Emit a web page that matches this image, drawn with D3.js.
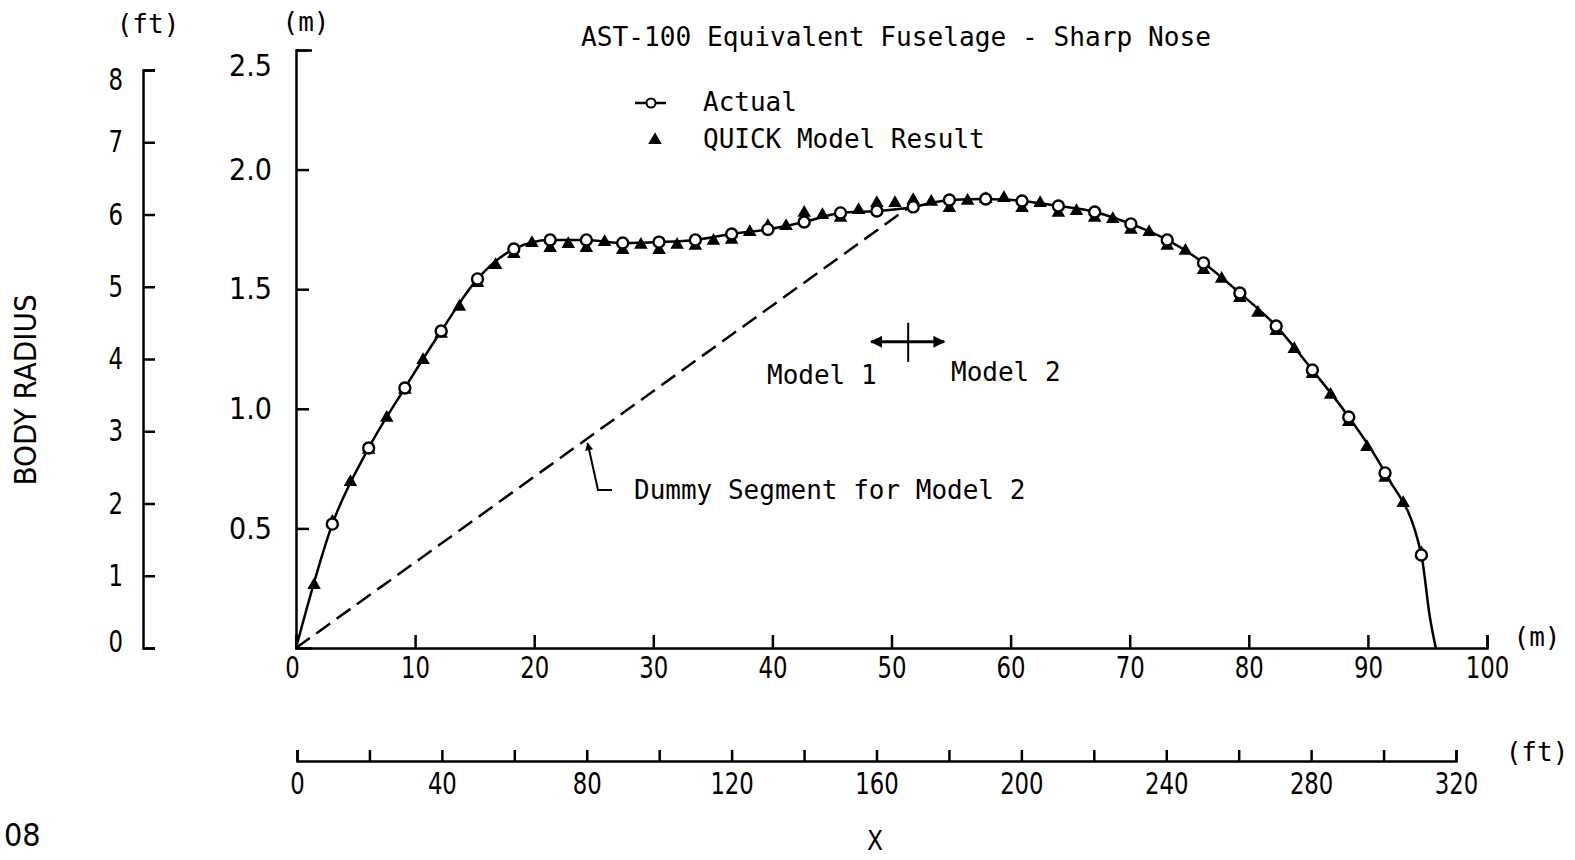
<!DOCTYPE html>
<html>
<head>
<meta charset="utf-8">
<script src="https://cdn.jsdelivr.net/npm/d3@7"></script>
<style>
  body { margin: 0; background: #fff; }
  svg { display: block; }
  .mono { font-family: "DejaVu Sans Mono", "Liberation Mono", monospace; }
</style>
</head>
<body>
<div id="chart"></div>
<script>
// stations along the body (m), 10 ft apart, and the actual body radius (m)
var stationActual = [0, 3.05, 6.10, 9.14, 12.19, 15.24, 18.29, 21.34, 24.38, 27.43, 30.48, 33.53, 36.58,
  39.62, 42.67, 45.72, 48.77, 51.82, 54.86, 57.91, 60.96, 64.01, 67.06, 70.10, 73.15, 76.20,
  79.25, 82.30, 85.34, 88.39, 91.44, 94.49, 95.20, 95.70];
var radiusActual = [0, 0.518, 0.836, 1.087, 1.325, 1.543, 1.668, 1.706, 1.706, 1.693, 1.697, 1.706, 1.731,
  1.750, 1.781, 1.819, 1.827, 1.844, 1.873, 1.877, 1.869, 1.848, 1.823, 1.773, 1.706, 1.610,
  1.484, 1.346, 1.162, 0.966, 0.732, 0.389, 0.130, 0];
// which actual stations carry a circle marker
var circleActual = [false, true, true, true, true, true, true, true, true, true, true, true, true,
  true, true, true, true, true, true, true, true, true, true, true, true, true,
  true, true, true, true, true, true, false, false];

// QUICK model result, every 5 ft
var stationQuick = [1.52, 3.05, 4.57, 6.10, 7.62, 9.14, 10.67, 12.19, 13.72, 15.24, 16.76, 18.29, 19.81,
  21.34, 22.86, 24.38, 25.91, 27.43, 28.96, 30.48, 32.00, 33.53, 35.05, 36.58, 38.10, 39.62, 41.15,
  42.67, 44.20, 45.72, 47.24, 48.77, 50.29, 51.82, 53.34, 54.86, 56.39, 57.91, 59.44, 60.96, 62.48,
  64.01, 65.53, 67.06, 68.58, 70.10, 71.63, 73.15, 74.68, 76.20, 77.72, 79.25, 80.77, 82.30, 83.82,
  85.34, 86.87, 88.39, 89.92, 91.44, 92.96, 94.49];
var radiusQuick = [0.263, 0.527, 0.694, 0.828, 0.962, 1.079, 1.204, 1.313, 1.426, 1.526, 1.601, 1.647, 1.693,
  1.672, 1.689, 1.672, 1.697, 1.664, 1.685, 1.664, 1.685, 1.681, 1.702, 1.706, 1.739, 1.764, 1.764,
  1.819, 1.810, 1.798, 1.831, 1.860, 1.860, 1.873, 1.865, 1.839, 1.869, 1.877, 1.881, 1.839, 1.860,
  1.819, 1.827, 1.798, 1.793, 1.748, 1.739, 1.681, 1.660, 1.580, 1.543, 1.463, 1.401, 1.325, 1.250,
  1.145, 1.058, 0.945, 0.840, 0.711, 0.606, 0.397];

// dummy segment for model 2 and the model split station
var dummyStart = [0, 0];
var dummyEnd = [51.4, 1.84];
var splitStation = 51.4;

// tick values
var xTicksM = [0, 10, 20, 30, 40, 50, 60, 70, 80, 90, 100];
var xTicksFt = d3.range(0, 321, 20);
var yTicksM = [0.5, 1.0, 1.5, 2.0, 2.5];
var yTicksFt = [0, 1, 2, 3, 4, 5, 6, 7, 8];

var W = 1575, H = 860;
var tickFont = '"Liberation Sans Narrow", "DejaVu Sans Condensed", "Roboto Condensed", sans-serif';

var svg = d3.select('#chart').append('svg')
  .attr('width', W).attr('height', H);

// scales
var x = d3.scaleLinear().domain([0, 100]).range([296, 1487]);
var xFt = d3.scaleLinear().domain([0, 320]).range([297, 1456]);
var y = d3.scaleLinear().domain([0, 2.5]).range([648, 50]);
var yFt = d3.scaleLinear().domain([0, 8]).range([648, 70]);

function styleAxis(g, size) {
  g.attr('font-family', tickFont).attr('font-size', size);
  g.selectAll('path, line').attr('stroke', '#000').attr('stroke-width', 2.5);
  g.selectAll('text').attr('fill', '#000');
}
// squeeze integer labels to the narrow lettering of the original
function narrowDigits(g) {
  g.selectAll('.tick text').each(function() {
    var t = d3.select(this).text();
    if (t.length && t.indexOf('.') < 0) {
      d3.select(this).attr('textLength', t.length * 14.5).attr('lengthAdjust', 'spacingAndGlyphs');
    }
  });
}

// x axis (m)
var xAxis = svg.append('g')
  .attr('transform', 'translate(0,648)')
  .call(d3.axisBottom(x).tickValues(xTicksM).tickFormat(d3.format('d'))
    .tickSizeInner(-13).tickSizeOuter(-13).tickPadding(9));
styleAxis(xAxis, 30);
narrowDigits(xAxis);
xAxis.selectAll('.tick').filter(function(d) { return d === 0; }).select('text').attr('dx', -4);

// x axis (ft)
var xAxisFt = svg.append('g')
  .attr('transform', 'translate(0,761)')
  .call(d3.axisBottom(xFt).tickValues(xTicksFt)
    .tickFormat(function(d) { return d % 40 === 0 ? d : ''; })
    .tickSizeInner(-11).tickSizeOuter(-11).tickPadding(12));
styleAxis(xAxisFt, 30);
narrowDigits(xAxisFt);

// y axis (m)
var yAxis = svg.append('g')
  .attr('transform', 'translate(296,0)')
  .call(d3.axisLeft(y).tickValues(yTicksM).tickFormat(d3.format('.1f'))
    .tickSizeInner(-13).tickSizeOuter(-16).tickPadding(24));
styleAxis(yAxis, 30);
yAxis.selectAll('.tick').filter(function(d) { return d === 2.5; }).select('text').attr('dy', '0.85em');

// y axis (ft)
var yAxisFt = svg.append('g')
  .attr('transform', 'translate(143,0)')
  .call(d3.axisLeft(yFt).tickValues(yTicksFt).tickFormat(d3.format('d'))
    .tickSizeInner(-12).tickSizeOuter(-12).tickPadding(20));
styleAxis(yAxisFt, 30);
narrowDigits(yAxisFt);
yAxisFt.selectAll('.tick').filter(function(d) { return d === 8; }).select('text').attr('dy', '0.65em');
yAxisFt.selectAll('.tick').filter(function(d) { return d === 0; }).select('text').attr('dy', '0.1em');

// unit labels
function label(txt, px, py, size) {
  return svg.append('text').attr('class', 'mono')
    .attr('x', px).attr('y', py)
    .attr('text-anchor', 'middle').attr('dominant-baseline', 'central')
    .attr('font-size', size).attr('fill', '#000').text(txt);
}
label('(ft)', 148, 24, 26);
label('(m)', 306, 22, 26);
label('(m)', 1537, 637, 26);
label('(ft)', 1537, 752, 26);

svg.append('text')
  .attr('transform', 'translate(25,390) rotate(-90)')
  .attr('text-anchor', 'middle').attr('dominant-baseline', 'central')
  .attr('font-family', tickFont).attr('font-size', 31).attr('fill', '#000')
  .text('BODY RADIUS');

svg.append('text')
  .attr('x', 875).attr('y', 841)
  .attr('text-anchor', 'middle').attr('dominant-baseline', 'central')
  .attr('font-family', tickFont).attr('font-size', 26).attr('fill', '#000')
  .text('X');

// page number at the bottom-left corner
svg.append('text')
  .attr('x', 4).attr('y', 846)
  .attr('font-family', tickFont).attr('font-size', 32).attr('font-weight', 300).attr('fill', '#000')
  .text('08');

// title
svg.append('text').attr('class', 'mono')
  .attr('x', 581).attr('y', 37).attr('dominant-baseline', 'central')
  .attr('font-size', 26).attr('fill', '#000')
  .attr('textLength', 630).attr('lengthAdjust', 'spacingAndGlyphs')
  .text('AST-100 Equivalent Fuselage - Sharp Nose');

// dummy segment (dashed)
svg.append('line')
  .attr('x1', x(dummyStart[0])).attr('y1', y(dummyStart[1]))
  .attr('x2', x(dummyEnd[0])).attr('y2', y(dummyEnd[1]))
  .attr('stroke', '#000').attr('stroke-width', 2.5).attr('stroke-dasharray', '17,8');

// actual curve
var line = d3.line()
  .x(function(d, i) { return x(stationActual[i]); })
  .y(function(d) { return y(d); })
  .curve(d3.curveMonotoneX);
svg.append('path')
  .attr('d', line(radiusActual))
  .attr('fill', 'none').attr('stroke', '#000').attr('stroke-width', 2.5);

// QUICK model triangles
var tri = d3.symbol().type(d3.symbolTriangle).size(80);
svg.append('g').selectAll('path')
  .data(radiusQuick)
  .enter().append('path')
  .attr('d', tri)
  .attr('transform', function(d, i) { return 'translate(' + x(stationQuick[i]) + ',' + y(d) + ')'; })
  .attr('fill', '#000');

// actual circles
svg.append('g').selectAll('circle')
  .data(radiusActual.map(function(r, i) { return { s: stationActual[i], r: r }; })
    .filter(function(d, i) { return circleActual[i]; }))
  .enter().append('circle')
  .attr('cx', function(d) { return x(d.s); })
  .attr('cy', function(d) { return y(d.r); })
  .attr('r', 5.5)
  .attr('fill', '#fff').attr('stroke', '#000').attr('stroke-width', 2.4);

// legend
svg.append('line').attr('x1', 635).attr('x2', 666).attr('y1', 103).attr('y2', 103)
  .attr('stroke', '#000').attr('stroke-width', 2.5);
svg.append('circle').attr('cx', 651).attr('cy', 103).attr('r', 4.5)
  .attr('fill', '#fff').attr('stroke', '#000').attr('stroke-width', 2);
svg.append('path').attr('d', tri).attr('transform', 'translate(655,140)').attr('fill', '#000');
svg.append('text').attr('class', 'mono').attr('x', 703).attr('y', 102)
  .attr('dominant-baseline', 'central').attr('font-size', 26).attr('fill', '#000').text('Actual');
svg.append('text').attr('class', 'mono').attr('x', 703).attr('y', 139)
  .attr('dominant-baseline', 'central').attr('font-size', 26).attr('fill', '#000').text('QUICK Model Result');

// model split marker
var crossY = 1.28;
svg.append('line')
  .attr('x1', x(splitStation)).attr('x2', x(splitStation))
  .attr('y1', y(crossY) - 19).attr('y2', y(crossY) + 20)
  .attr('stroke', '#000').attr('stroke-width', 2);
var defs = svg.append('defs');
defs.append('marker').attr('id', 'arrow')
  .attr('viewBox', '0 0 10 10').attr('refX', 9).attr('refY', 5)
  .attr('markerWidth', 5).attr('markerHeight', 4).attr('orient', 'auto-start-reverse')
  .attr('markerUnits', 'strokeWidth')
  .append('path').attr('d', 'M0,0L10,5L0,10Z').attr('fill', '#000');
svg.append('line')
  .attr('x1', x(splitStation) - 37).attr('x2', x(splitStation) + 36)
  .attr('y1', y(crossY)).attr('y2', y(crossY))
  .attr('stroke', '#000').attr('stroke-width', 3)
  .attr('marker-start', 'url(#arrow)').attr('marker-end', 'url(#arrow)');
svg.append('text').attr('class', 'mono').attr('x', 767).attr('y', 375)
  .attr('dominant-baseline', 'central').attr('font-size', 26).attr('fill', '#000').text('Model 1');
svg.append('text').attr('class', 'mono').attr('x', 951).attr('y', 372)
  .attr('dominant-baseline', 'central').attr('font-size', 26).attr('fill', '#000').text('Model 2');

// leader to dummy segment
var tipX = 24.4;
var tipY = dummyEnd[1] * tipX / dummyEnd[0];
svg.append('path')
  .attr('d', 'M612,490H598L' + (x(tipX) + 1) + ',' + (y(tipY) + 4))
  .attr('fill', 'none').attr('stroke', '#000').attr('stroke-width', 2)
  .attr('marker-end', 'url(#arrow)');
svg.append('text').attr('class', 'mono').attr('x', 634).attr('y', 490)
  .attr('dominant-baseline', 'central').attr('font-size', 26).attr('fill', '#000')
  .text('Dummy Segment for Model 2');
</script>
</body>
</html>
